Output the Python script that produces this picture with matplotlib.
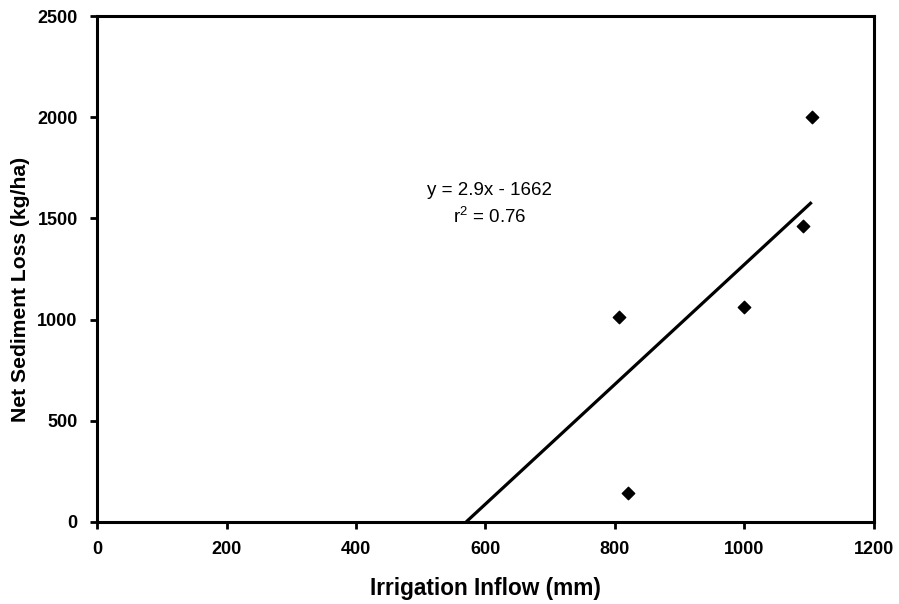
import matplotlib
matplotlib.use("Agg")
import matplotlib.pyplot as plt
import numpy as np

# data
inflow_mm = [806, 820, 999, 1090, 1104]
sed_loss = [1013, 145, 1062, 1463, 2003]

# fitted line as drawn (equation label is rounded)
fit_slope = 2.96
fit_intercept = -1688
eq_text = "y = 2.9x - 1662"
r2_text = "r$^2$ = 0.76"

plt.rcParams["font.family"] = ["Liberation Sans", "DejaVu Sans"]
plt.rcParams["mathtext.fontset"] = "custom"
plt.rcParams["mathtext.rm"] = "Liberation Sans"

fig = plt.figure(figsize=(8.99, 6.04), dpi=100)
ax = fig.add_axes([0.108, 0.136, 0.864, 0.8375])

ax.scatter(inflow_mm, sed_loss, marker="D", s=40, color="black", zorder=3)

x0 = -fit_intercept / fit_slope
xl = np.array([x0, max(inflow_mm)])
ax.plot(xl, fit_slope * xl + fit_intercept, color="black", lw=2.3, solid_capstyle="butt")

ax.text(607, 1640, eq_text, ha="center", va="center", fontsize=13.5)
ax.text(607, 1510, r2_text, ha="center", va="center", fontsize=13.5)

ax.set_xlim(0, 1200)
ax.set_ylim(0, 2500)
ax.set_xticks(np.arange(0, 1201, 200))
ax.set_yticks(np.arange(0, 2501, 500))
for s in ax.spines.values():
    s.set_linewidth(2.2)
ax.tick_params(direction="out", length=5, width=2, pad=9)
for lab in ax.get_xticklabels() + ax.get_yticklabels():
    lab.set_fontweight("bold")
    lab.set_fontsize(13)

ax.set_xlabel("Irrigation Inflow (mm)", fontsize=16.3, fontweight="bold")
ax.set_ylabel("Net Sediment Loss (kg/ha)", fontsize=15.2, fontweight="bold")
ax.xaxis.set_label_coords(0.5, -0.11)
ax.yaxis.set_label_coords(-0.087, 0.46)

fig.savefig("out.png", dpi=100)
